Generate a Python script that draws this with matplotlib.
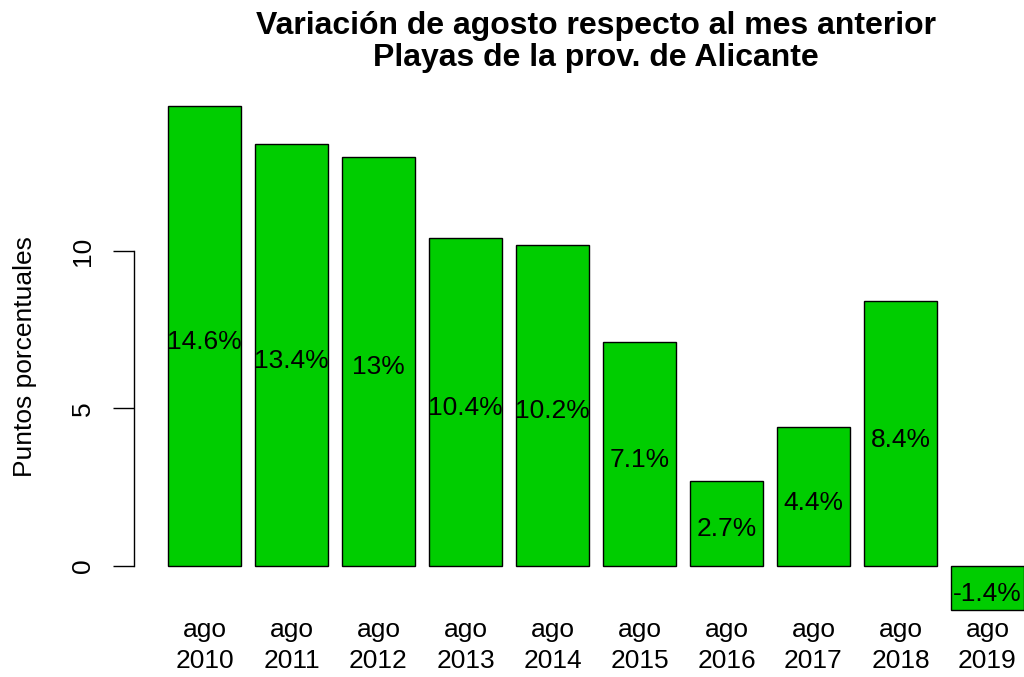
import matplotlib
matplotlib.use("Agg")
import matplotlib.pyplot as plt
import matplotlib.transforms as mtransforms

# Datos
years = ["2010", "2011", "2012", "2013", "2014", "2015", "2016", "2017", "2018", "2019"]
month_label = "ago"
variation = [14.6, 13.4, 13.0, 10.4, 10.2, 7.1, 2.7, 4.4, 8.4, -1.4]

title = "Variación de agosto respecto al mes anterior\nPlayas de la prov. de Alicante"
y_label = "Puntos porcentuales"
y_ticks = [0, 5, 10]

bar_colour = "#00CD00"
plt.rcParams["font.family"] = ["Liberation Sans", "DejaVu Sans"]

W, H = 1024, 677
fig = plt.figure(figsize=(W / 100, H / 100), dpi=100)

# plot region like R barplot (width 1, space 0.2)
left_px, right_px, top_px, bottom_px = 134, 1024, 86, 630
ax = fig.add_axes([left_px / W, 1 - bottom_px / H,
                   (right_px - left_px) / W, (bottom_px - top_px) / H])

lefts = [0.2 + 1.2 * i for i in range(len(variation))]
centres = [l + 0.5 for l in lefts]

ax.bar(lefts, variation, width=1.0, align="edge", color=bar_colour,
       edgecolor="black", linewidth=1.0)

label_trans = mtransforms.offset_copy(ax.transData, fig, y=-6, units="dots")
for c, v in zip(centres, variation):
    ax.text(c, v / 2, f"{v:g}%", ha="center", va="center", fontsize=19,
            transform=label_trans)

ax.set_xlim(-0.272, 12.004)
ax.set_ylim(-2.04, 15.24)

for s in ["top", "right", "bottom"]:
    ax.spines[s].set_visible(False)
ax.spines["left"].set_bounds(0, 10)
ax.spines["left"].set_linewidth(1.0)
ax.set_xticks([])
ax.set_yticks(y_ticks)
ax.set_yticklabels([str(t) for t in y_ticks], rotation=90, va="center",
                   fontsize=19)
ax.tick_params(axis="y", length=15, width=1.0, pad=13)

# category labels
trans = mtransforms.blended_transform_factory(ax.transData, fig.transFigure)
for c, yr in zip(centres, years):
    ax.text(c, 1 - 630 / H, month_label, ha="center", va="center",
            fontsize=19, transform=trans, clip_on=False)
    ax.text(c, 1 - 661 / H, yr, ha="center", va="center",
            fontsize=19, transform=trans, clip_on=False)

fig.text(25 / W, 1 - 357 / H, y_label, rotation=90, ha="center",
         va="center", fontsize=19)

fig.text((134 + 1058) / 2 / W, 1 - 42 / H, title, ha="center", va="center",
         fontsize=23, fontweight="bold", linespacing=1.05)

fig.savefig("out.png", dpi=100)
